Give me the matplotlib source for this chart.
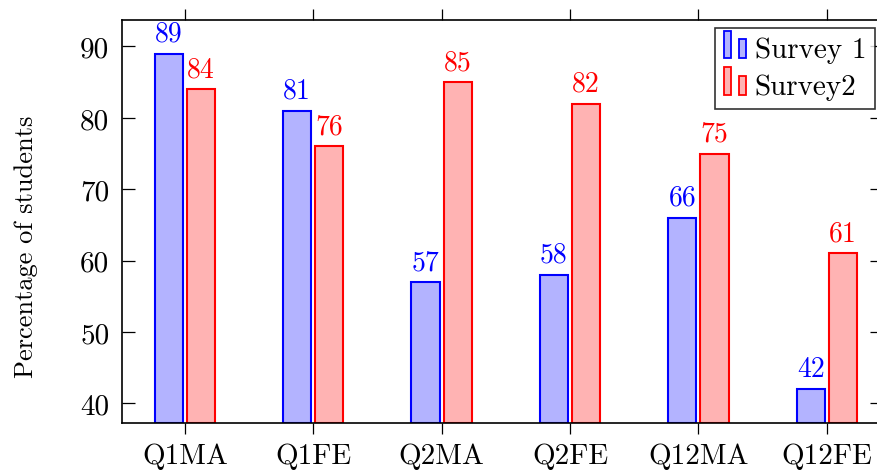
import matplotlib
matplotlib.use("Agg")
import matplotlib.pyplot as plt
import numpy as np
from matplotlib.legend_handler import HandlerBase
from matplotlib.patches import Rectangle

categories = ["Q1MA", "Q1FE", "Q2MA", "Q2FE", "Q12MA", "Q12FE"]
survey1 = [89, 81, 57, 58, 66, 42]
survey2 = [84, 76, 85, 82, 75, 61]
series_names = ["Survey 1", "Survey2"]
yticks = [40, 50, 60, 70, 80, 90]

plt.rcParams['font.family'] = ['cmr10', 'DejaVu Serif']
plt.rcParams['axes.unicode_minus'] = False
plt.rcParams['mathtext.fontset'] = 'cm'

blue_edge = (0, 0, 1)
blue_fill = (0.7, 0.7, 1)
red_edge = (1, 0, 0)
red_fill = (1, 0.7, 0.7)

fig = plt.figure(figsize=(8.78, 4.77), dpi=100)
ax = fig.add_axes([122/878, 1-424/477, 760/878, (424-20.7)/477])

x = np.arange(len(categories))
w = 0.22
off = 0.125
ymin, ymax = 37.25, 93.75
b1 = ax.bar(x - off, np.array(survey1) - ymin, w, bottom=ymin, color=blue_fill,
            edgecolor=blue_edge, linewidth=1.5, label=series_names[0])
b2 = ax.bar(x + off, np.array(survey2) - ymin, w, bottom=ymin, color=red_fill,
            edgecolor=red_edge, linewidth=1.5, label=series_names[1])

for xi, v in zip(x - off, survey1):
    ax.annotate(str(v), (xi, v), xytext=(0, 5), textcoords='offset points',
                ha='center', va='bottom', color=blue_edge, fontsize=20)
for xi, v in zip(x + off, survey2):
    ax.annotate(str(v), (xi, v), xytext=(0, 5), textcoords='offset points',
                ha='center', va='bottom', color=red_edge, fontsize=20)

ax.set_ylim(ymin, ymax)
ax.set_xlim(-0.49, 5.43)
ax.set_xticks(x)
ax.set_xticklabels(categories, fontsize=21)
ax.set_yticks(yticks)
ax.set_yticklabels([str(t) for t in yticks], fontsize=21)
ax.tick_params(axis='x', direction='out', length=8, width=0.9, top=True, bottom=True, pad=6)
ax.tick_params(axis='y', direction='in', length=9, width=0.9, left=True, right=True, pad=9)
for s in ax.spines.values():
    s.set_linewidth(1.2)
ax.set_ylabel("Percentage of students", fontsize=19)
ax.yaxis.set_label_coords(-0.11, 0.44)


class TwoBarHandler(HandlerBase):
    def __init__(self, fc, ec):
        super().__init__()
        self.fc = fc
        self.ec = ec

    def create_artists(self, legend, orig_handle, xdescent, ydescent, width, height, fontsize, trans):
        bw = width * 0.3
        y0 = -ydescent - 0.05 * height
        r1 = Rectangle((-xdescent, y0), bw, height * 1.35,
                       facecolor=self.fc, edgecolor=self.ec, linewidth=1.3, transform=trans)
        r2 = Rectangle((-xdescent + width * 0.65, y0), bw, height * 0.95,
                       facecolor=self.fc, edgecolor=self.ec, linewidth=1.3, transform=trans)
        return [r1, r2]


leg = fig.legend([b1, b2], series_names, loc='upper right',
                 bbox_to_anchor=(875/878, 1-29/477),
                 handler_map={b1: TwoBarHandler(blue_fill, blue_edge),
                              b2: TwoBarHandler(red_fill, red_edge)},
                 fontsize=21, frameon=True, fancybox=False, edgecolor='black',
                 handlelength=0.8, handletextpad=0.25, borderpad=0.3, labelspacing=0.35,
                 borderaxespad=0)
leg.get_frame().set_linewidth(1.2)

fig.savefig("out.png", dpi=100)
